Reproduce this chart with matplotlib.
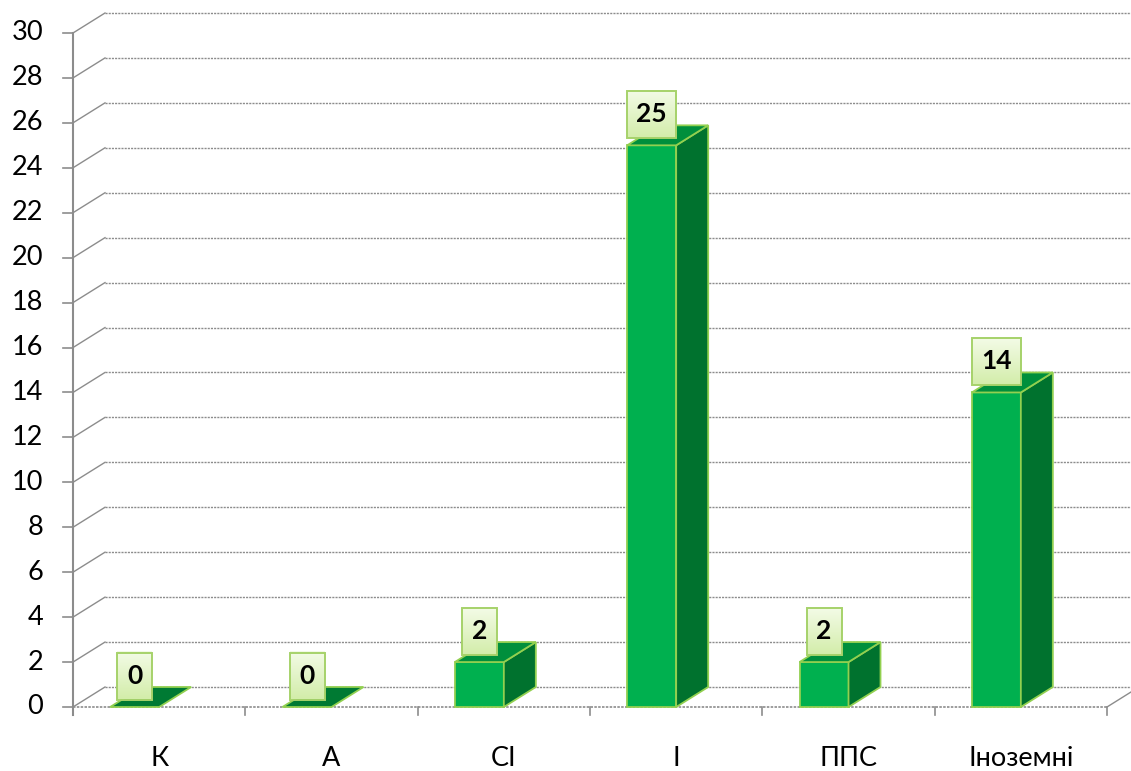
import matplotlib
matplotlib.use("Agg")
import matplotlib.pyplot as plt
import numpy as np
from matplotlib.patches import Polygon, Rectangle
from matplotlib.colors import LinearSegmentedColormap

plt.rcParams['font.family'] = ['Lato', 'DejaVu Sans']

categories = ["К", "А", "СІ", "І", "ППС", "Іноземні"]
values = [0, 0, 2, 25, 2, 14]
yticks = list(range(0, 31, 2))

W, H = 1131, 771
fig = plt.figure(figsize=(W / 100, H / 100), dpi=100)
ax = fig.add_axes([0, 0, 1, 1])

# pixel geometry of the reference
px_x0, px_x1 = 73, 1107      # category axis span
px_y0, px_y30 = 707, 33      # value 0 / 30 (from top)
n = len(categories)
ux = (px_x1 - px_x0) / n     # px per category
uy = (px_y0 - px_y30) / 30.0 # px per value unit
xl = -0.5 - px_x0 / ux
xr = -0.5 + (W - px_x0) / ux
yb = -(H - px_y0) / uy
yt = 30 + px_y30 / uy

dx = 32 / ux
dy = 20 / uy
x0, x1 = -0.5, n - 0.5
grid_col = '#8c8c8c'

# back wall gridlines + side diagonals
for v in yticks:
    ax.plot([x0, x0 + dx], [v, v + dy], color=grid_col, lw=1.0, zorder=1)
    ax.plot([x0 + dx, xr], [v + dy, v + dy], color=grid_col, lw=1.0,
            ls=(0, (1.5, 0.8)), zorder=1)
    ax.plot([x0 - 10 / ux, x0], [v, v], color=grid_col, lw=1.2, zorder=1)
# floor front edge and right diagonal
ax.plot([x0, x1], [0, 0], color=grid_col, lw=1.2, ls=(0, (1.5, 0.8)), zorder=1)
ax.plot([x1, x1 + dx], [0, dy], color=grid_col, lw=1.0, zorder=1)
# value axis
ax.plot([x0, x0], [-8 / uy, 30], color=grid_col, lw=1.5, zorder=2)
# category ticks
for i in range(n + 1):
    ax.plot([x0 + i, x0 + i], [0, -8 / uy], color=grid_col, lw=1.2, zorder=2)

# y tick labels
for v in yticks:
    ax.text(x0 - 30 / ux, v, str(v), ha='right', va='center', fontsize=19.5,
            color='black')
# category labels
for i, c in enumerate(categories):
    ax.text(i, -52 / uy, c, ha='center', va='center', fontsize=19.5,
            color='black')

front_c = '#00b04f'
side_c = '#00722e'
top_c = '#008f3c'
edge_c = '#92d050'
grad = LinearSegmentedColormap.from_list('lbl', ['#d3edaa', '#f3fbe6'])
gimg = np.linspace(0, 1, 64).reshape(-1, 1)
bw = 49 / ux
for i, v in enumerate(values):
    l = i - 49 / ux
    r = l + bw
    z = 3 + i
    if v > 0:
        ax.add_patch(Polygon([(l, 0), (r, 0), (r, v), (l, v)], closed=True,
                             fc=front_c, ec=edge_c, lw=1.3, zorder=z))
        ax.add_patch(Polygon([(r, 0), (r + dx, dy), (r + dx, v + dy), (r, v)],
                             closed=True, fc=side_c, ec=edge_c, lw=1.3, zorder=z))
    ax.add_patch(Polygon([(l, v), (r, v), (r + dx, v + dy), (l + dx, v + dy)],
                         closed=True, fc=top_c if v > 0 else '#007a33',
                         ec=edge_c, lw=1.3, zorder=z))
    # data label box
    cx, cy = (l + r) / 2, v + 31 / uy
    s = str(v)
    hw = (17.5 if len(s) == 1 else 24.5) / ux
    hh = 23.5 / uy
    ax.imshow(gimg, cmap=grad, origin='lower', aspect='auto',
              extent=(cx - hw, cx + hw, cy - hh, cy + hh), zorder=19,
              interpolation='bilinear')
    ax.add_patch(Rectangle((cx - hw, cy - hh), 2 * hw, 2 * hh, fc='none',
                           ec='#a6d26a', lw=1.4, zorder=19.5))
    ax.text(cx, cy, s, ha='center', va='center', fontsize=19,
            fontweight='bold', color='black', zorder=20)

ax.set_xlim(xl, xr)
ax.set_ylim(yb, yt)
ax.axis('off')
fig.savefig('out.png', dpi=100)
